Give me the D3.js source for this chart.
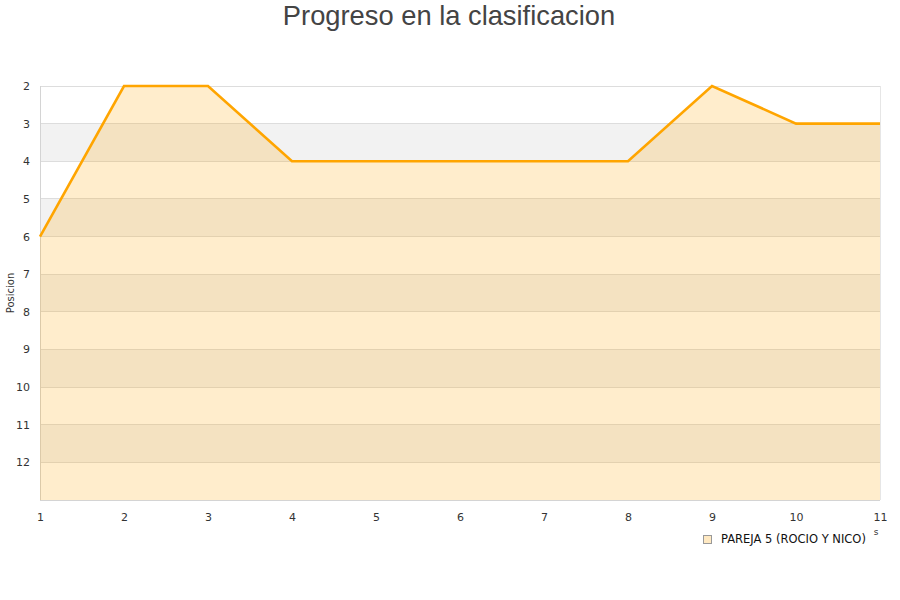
<!DOCTYPE html>
<html><head><meta charset="utf-8">
<script src="https://cdn.jsdelivr.net/npm/d3@7"></script>
<style>body{margin:0;background:#fff}svg{display:block}</style>
</head><body><svg id="c" width="900" height="600"></svg>
<script>
const jornadas = [1,2,3,4,5,6,7,8,9,10,11];
const posiciones = [6,2,2,4,4,4,4,4,2,3,3];
const yTicks = [2,3,4,5,6,7,8,9,10,11,12];
const serieNombre = "PAREJA 5 (ROCIO Y NICO)";
const titulo = "Progreso en la clasificacion";
const yTitulo = "Posicion";

const svg = d3.select("#c");
const m = {l:40, r:880, t:86, b:500};
const x = d3.scaleLinear().domain([1,11]).range([m.l, m.r]);
const y = d3.scaleLinear().domain([2,13]).range([m.t, m.b]);

// bands
const bands = d3.range(2,13);
svg.selectAll("rect.band").data(bands).enter().append("rect")
  .attr("x", m.l).attr("width", m.r-m.l)
  .attr("y", d=>y(d)).attr("height", d=>y(d+1)-y(d))
  .attr("fill", (d,i)=> i%2===1 ? "#f2f2f2" : "#ffffff");
// gridlines
svg.selectAll("line.grid").data(yTicks).enter().append("line")
  .attr("x1", m.l).attr("x2", m.r).attr("y1", d=>y(d)).attr("y2", d=>y(d))
  .attr("stroke", "#dddddd").attr("stroke-width", 1).attr("shape-rendering","crispEdges");
// frame
svg.append("line").attr("x1",m.l).attr("x2",m.l).attr("y1",m.t).attr("y2",m.b).attr("stroke","#d4d4d4").attr("shape-rendering","crispEdges");
svg.append("line").attr("x1",m.l).attr("x2",m.r).attr("y1",m.b).attr("y2",m.b).attr("stroke","#d4d4d4").attr("shape-rendering","crispEdges");
svg.append("line").attr("x1",m.r).attr("x2",m.r).attr("y1",m.t).attr("y2",m.b).attr("stroke","#e6e6e6").attr("shape-rendering","crispEdges");

const data = jornadas.map((j,i)=>({j, p:posiciones[i]}));
const area = d3.area().x(d=>x(d.j)).y0(y(13)).y1(d=>y(d.p));
const line = d3.line().x(d=>x(d.j)).y(d=>y(d.p));
svg.append("path").datum(data).attr("d", area).attr("fill", "rgba(255,165,0,0.2)");
svg.append("path").datum(data).attr("d", line).attr("fill","none").attr("stroke","#FFA500").attr("stroke-width",2.6).attr("stroke-linejoin","miter");

// axes labels
const yAxis = d3.axisLeft(y).tickValues(yTicks).tickSize(0).tickPadding(10);
const gy = svg.append("g").attr("transform",`translate(${m.l},0)`).call(yAxis);
gy.select(".domain").remove();
gy.selectAll("text").attr("font-family","DejaVu Sans").attr("font-size",11).attr("fill","#333");
const xAxis = d3.axisBottom(x).tickValues(jornadas).tickSize(0).tickPadding(13);
const gx = svg.append("g").attr("transform",`translate(0,${m.b})`).call(xAxis);
gx.select(".domain").remove();
gx.selectAll("text").attr("font-family","DejaVu Sans").attr("font-size",11).attr("fill","#333");

// title
svg.append("text").attr("x",449).attr("y",25).attr("text-anchor","middle")
  .attr("font-family","Liberation Sans").attr("font-size",27.3).attr("fill","#444").text(titulo);
// y title
svg.append("text").attr("transform","translate(14,293) rotate(-90)").attr("text-anchor","middle")
  .attr("font-family","DejaVu Sans").attr("font-size",10).attr("fill","#333").text(yTitulo);
// clipped x title remnant
svg.append("text").attr("x",876).attr("y",535).attr("text-anchor","middle")
  .attr("font-family","DejaVu Sans").attr("font-size",9).attr("fill","#333").text("s");

// legend
svg.append("rect").attr("x",703.5).attr("y",535.5).attr("width",8).attr("height",8)
  .attr("fill","#ffe9c2").attr("stroke","#999").attr("stroke-width",1);
svg.append("text").attr("x",721).attr("y",543).attr("font-family","DejaVu Sans").attr("font-size",11.5)
  .attr("fill","#111").text(serieNombre);
</script></body></html>
